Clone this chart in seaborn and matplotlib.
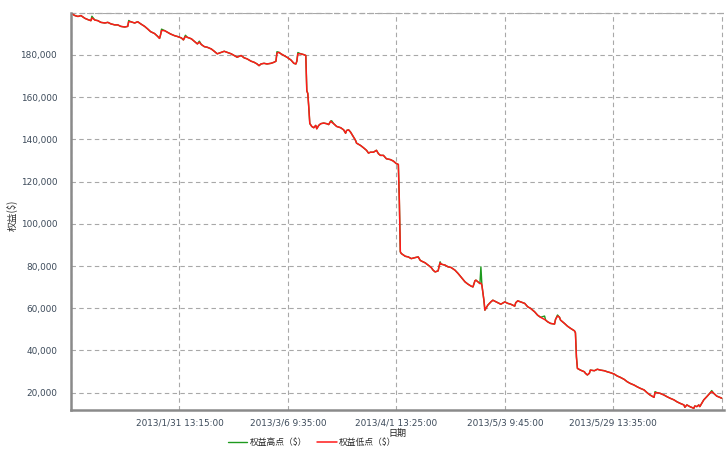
import matplotlib
matplotlib.use("Agg")
import matplotlib.pyplot as plt
import seaborn as sns
import pandas as pd

trade_no = [0, 1, 4, 7, 10, 14, 17, 20, 21, 24, 27, 30, 34, 37, 40, 44, 47, 50, 54, 57,
            58, 60, 64, 67, 70, 74, 77, 80, 84, 87, 89, 90, 91, 94, 97, 100, 104, 107, 111, 113,
            115, 117, 121, 124, 127, 129, 131, 134, 137, 141, 144, 147, 151, 154, 157, 161, 164, 167, 171, 174,
            177, 181, 184, 187, 189, 191, 194, 197, 201, 204, 206, 207, 209, 211, 214, 217, 221, 224, 226, 227,
            228, 231, 234, 236, 237, 238, 239, 240, 242, 244, 246, 247, 249, 251, 254, 257, 259, 261, 262, 264,
            267, 271, 274, 276, 277, 279, 281, 282, 284, 286, 287, 291, 294, 297, 299, 301, 304, 307, 309, 311,
            314, 316, 317, 321, 324, 327, 329, 330, 331, 332, 336, 339, 342, 346, 349, 351, 352, 356, 359, 362,
            364, 366, 369, 370, 371, 372, 376, 379, 382, 386, 389, 392, 396, 399, 402, 404, 406, 407, 409, 411,
            412, 413, 415, 416, 417, 419, 422, 424, 427, 429, 432, 436, 439, 442, 446, 447, 449, 452, 456, 459,
            462, 466, 469, 472, 476, 477, 479, 482, 486, 487, 489, 491, 492, 496, 499, 502, 506, 507, 508, 509,
            512, 516, 517, 519, 521, 522, 526, 529, 532, 536, 539, 542, 546, 549, 552, 556, 559, 562, 566, 569,
            572, 576, 579, 582, 586, 587, 589, 592, 596, 599, 602, 606, 609, 612, 616, 617, 619, 622, 626, 627,
            629, 631, 632, 634, 636, 639, 642, 644, 646, 649, 652, 654]

equity_low = [199800, 199400, 198600, 198200, 198600, 197300, 196700, 196200, 197500, 196500, 196200, 195400, 195100, 195400, 194700, 194200, 194200, 193500, 193200, 193500,
              195700, 195700, 195100, 195700, 194700, 193500, 192300, 191000, 190100, 188800, 187800, 189500, 191500, 191500, 190700, 189900, 189100, 188700, 188000, 187100,
              188700, 188300, 187600, 186400, 185200, 186000, 184900, 183900, 183600, 182800, 181700, 180500, 181200, 181700, 181200, 180500, 179700, 178900, 179700, 178600,
              178100, 177000, 176500, 175700, 174900, 175700, 176000, 175700, 176000, 176500, 177000, 180800, 181200, 180500, 179700, 178900, 177600, 176000, 175700, 177000,
              180500, 180500, 180100, 179700, 163000, 161700, 155100, 147500, 146100, 145500, 146600, 145000, 146600, 147400, 147700, 147400, 147000, 148600, 148100, 147400,
              146100, 145500, 144500, 142900, 144200, 144500, 143400, 142600, 141000, 139500, 138200, 137100, 136000, 134800, 133500, 133900, 133900, 134800, 133200, 132400,
              132400, 131300, 130800, 130400, 129700, 128500, 128100, 111100, 86700, 85900, 84600, 84300, 83500, 84000, 84300, 82700, 82400, 81500, 80400, 79300,
              78000, 77200, 77700, 79900, 81500, 80900, 80400, 79600, 79300, 78000, 76500, 74800, 72500, 71400, 70500, 70100, 73000, 73300, 72500, 71700,
              71900, 70900, 63800, 59100, 59900, 61500, 63000, 63800, 63100, 62600, 61900, 63000, 62300, 61900, 61000, 62600, 63500, 63000, 62300, 60700,
              59900, 58300, 56700, 55700, 54700, 54400, 53600, 52800, 52500, 54700, 56300, 55700, 54400, 52800, 51500, 50500, 49300, 48400, 37000, 31500,
              30700, 29900, 29200, 28400, 29200, 30700, 30400, 31100, 30700, 30400, 29900, 29500, 28800, 27900, 27300, 26300, 25200, 24400, 23600, 22800,
              22100, 21300, 20000, 18900, 17800, 20000, 20000, 19700, 18900, 18100, 17400, 16600, 15700, 15000, 14200, 13100, 14200, 13400, 12600, 13700,
              13400, 14200, 13400, 15000, 16600, 18100, 19700, 20500, 19700, 18400, 17800, 17400]

equity_high = [199800, 199400, 198600, 198200, 198600, 197300, 196700, 196200, 198300, 196500, 196200, 195400, 195100, 195400, 194700, 194200, 194200, 193500, 193200, 193500,
               196300, 195700, 195100, 195700, 194700, 193500, 192300, 191000, 190100, 188800, 187800, 189500, 192200, 191500, 190700, 189900, 189100, 188700, 188000, 187100,
               189300, 188300, 187600, 186400, 185200, 186500, 184900, 183900, 183600, 182800, 181700, 180500, 181200, 181700, 181200, 180500, 179700, 178900, 179700, 178600,
               178100, 177000, 176500, 175700, 174900, 175700, 176000, 175700, 176000, 176500, 177000, 181500, 181200, 180500, 179700, 178900, 177600, 176000, 175700, 177000,
               181100, 180500, 180100, 179700, 163000, 161700, 155100, 147500, 146100, 145500, 146600, 145000, 146600, 147400, 147700, 147400, 147000, 148600, 148800, 147400,
               146100, 145500, 144500, 142900, 144200, 144500, 143400, 142600, 141000, 139500, 138200, 137100, 136000, 134800, 133500, 133900, 133900, 134800, 133200, 132400,
               132400, 131300, 130800, 130400, 129700, 128500, 128100, 111100, 86700, 85900, 84600, 84300, 83500, 84000, 84300, 82700, 82400, 81500, 80400, 79300,
               78000, 77200, 77700, 79900, 82000, 80900, 80400, 79600, 79300, 78000, 76500, 74800, 72500, 71400, 70500, 70100, 73000, 73300, 72500, 71700,
               79600, 70900, 63800, 59100, 59900, 61500, 63000, 63800, 63100, 62600, 61900, 63000, 62300, 61900, 61000, 62600, 63500, 63000, 62300, 60700,
               59900, 58300, 56700, 55700, 56300, 54400, 53600, 52800, 52500, 54700, 56800, 55700, 54400, 52800, 51500, 50500, 49300, 48400, 37000, 31500,
               30700, 29900, 29200, 28400, 29200, 30700, 30400, 31100, 30700, 30400, 29900, 29500, 28800, 27900, 27300, 26300, 25200, 24400, 23600, 22800,
               22100, 21300, 20000, 18900, 17800, 20500, 20000, 19700, 18900, 18100, 17400, 16600, 15700, 15000, 14200, 13100, 14200, 13400, 12600, 13700,
               13400, 14200, 13400, 15000, 16600, 18100, 19700, 21000, 19700, 18400, 17800, 17400]

tick_trades = [0, 109, 218, 327, 436, 545, 654]
tick_labels = ["", "2013/1/31 13:15:00", "2013/3/6 9:35:00", "2013/4/1 13:25:00",
               "2013/5/3 9:45:00", "2013/5/29 13:35:00", ""]
y_ticks = [20000, 40000, 60000, 80000, 100000, 120000, 140000, 160000, 180000, 200000]

series_names = ["权益高点（$）", "权益低点（$）"]
x_title = "日期"
y_title = "权益($)"

sns.set_style("white")
plt.rcParams["font.family"] = ["DejaVu Sans", "Noto Sans CJK SC"]
cjk = ["Noto Sans CJK SC", "DejaVu Sans"]

df_high = pd.DataFrame({"trade": trade_no, "equity": equity_high})
df_low = pd.DataFrame({"trade": trade_no, "equity": equity_low})

fig = plt.figure(figsize=(7.26, 4.5), dpi=100)
ax = fig.add_axes([0.0978, 0.0889, 0.899, 0.883])

sns.lineplot(data=df_high, x="trade", y="equity", ax=ax, color="#1e9a1e",
             linewidth=1.0, estimator=None, sort=False, label=series_names[0])
sns.lineplot(data=df_low, x="trade", y="equity", ax=ax, color="#ff1a1a",
             linewidth=1.1, estimator=None, sort=False, label=series_names[1])

ax.set_xlim(0, 656)
ax.set_ylim(11800, 200000)
ax.set_xticks(tick_trades)
ax.set_xticklabels(tick_labels)
ax.set_yticks(y_ticks)
ax.set_yticklabels([f"{v:,}" if v < 200000 else "" for v in y_ticks])

tick_color = "#3c4a5a"
ax.tick_params(axis="both", which="both", direction="out", length=4, width=0.8,
               color="#777777", labelcolor=tick_color, labelsize=6.4)
ax.tick_params(axis="x", pad=2)
ax.tick_params(axis="y", pad=6)

ax.grid(True, linestyle=(0, (4, 3)), color="#a8a8a8", linewidth=0.8)
ax.set_axisbelow(True)
ax.axhline(200000, linestyle=(0, (4, 3)), color="#a8a8a8", linewidth=0.9, clip_on=False, zorder=0)

for s in ["top", "right"]:
    ax.spines[s].set_visible(False)
for s in ["left", "bottom"]:
    ax.spines[s].set_color("#8a8a8a")
    ax.spines[s].set_linewidth(1.8)

ax.set_xlabel(x_title, fontsize=6.5, color="#222222", labelpad=1, family=cjk)
ax.set_ylabel("")
fig.text(12 / 726, 1 - 215 / 450, y_title, rotation=90, ha="center", va="center",
         fontsize=7, color="#333333", family=cjk)

ax.legend_.remove()
handles, labels = ax.get_legend_handles_labels()
fig.legend(handles, labels, loc="center", bbox_to_anchor=(0.43, 0.016), ncol=2,
           frameon=False, handlelength=2.2, columnspacing=1.2,
           handletextpad=0.3, prop={"family": cjk, "size": 6.3})

fig.savefig("out.png", dpi=100)
